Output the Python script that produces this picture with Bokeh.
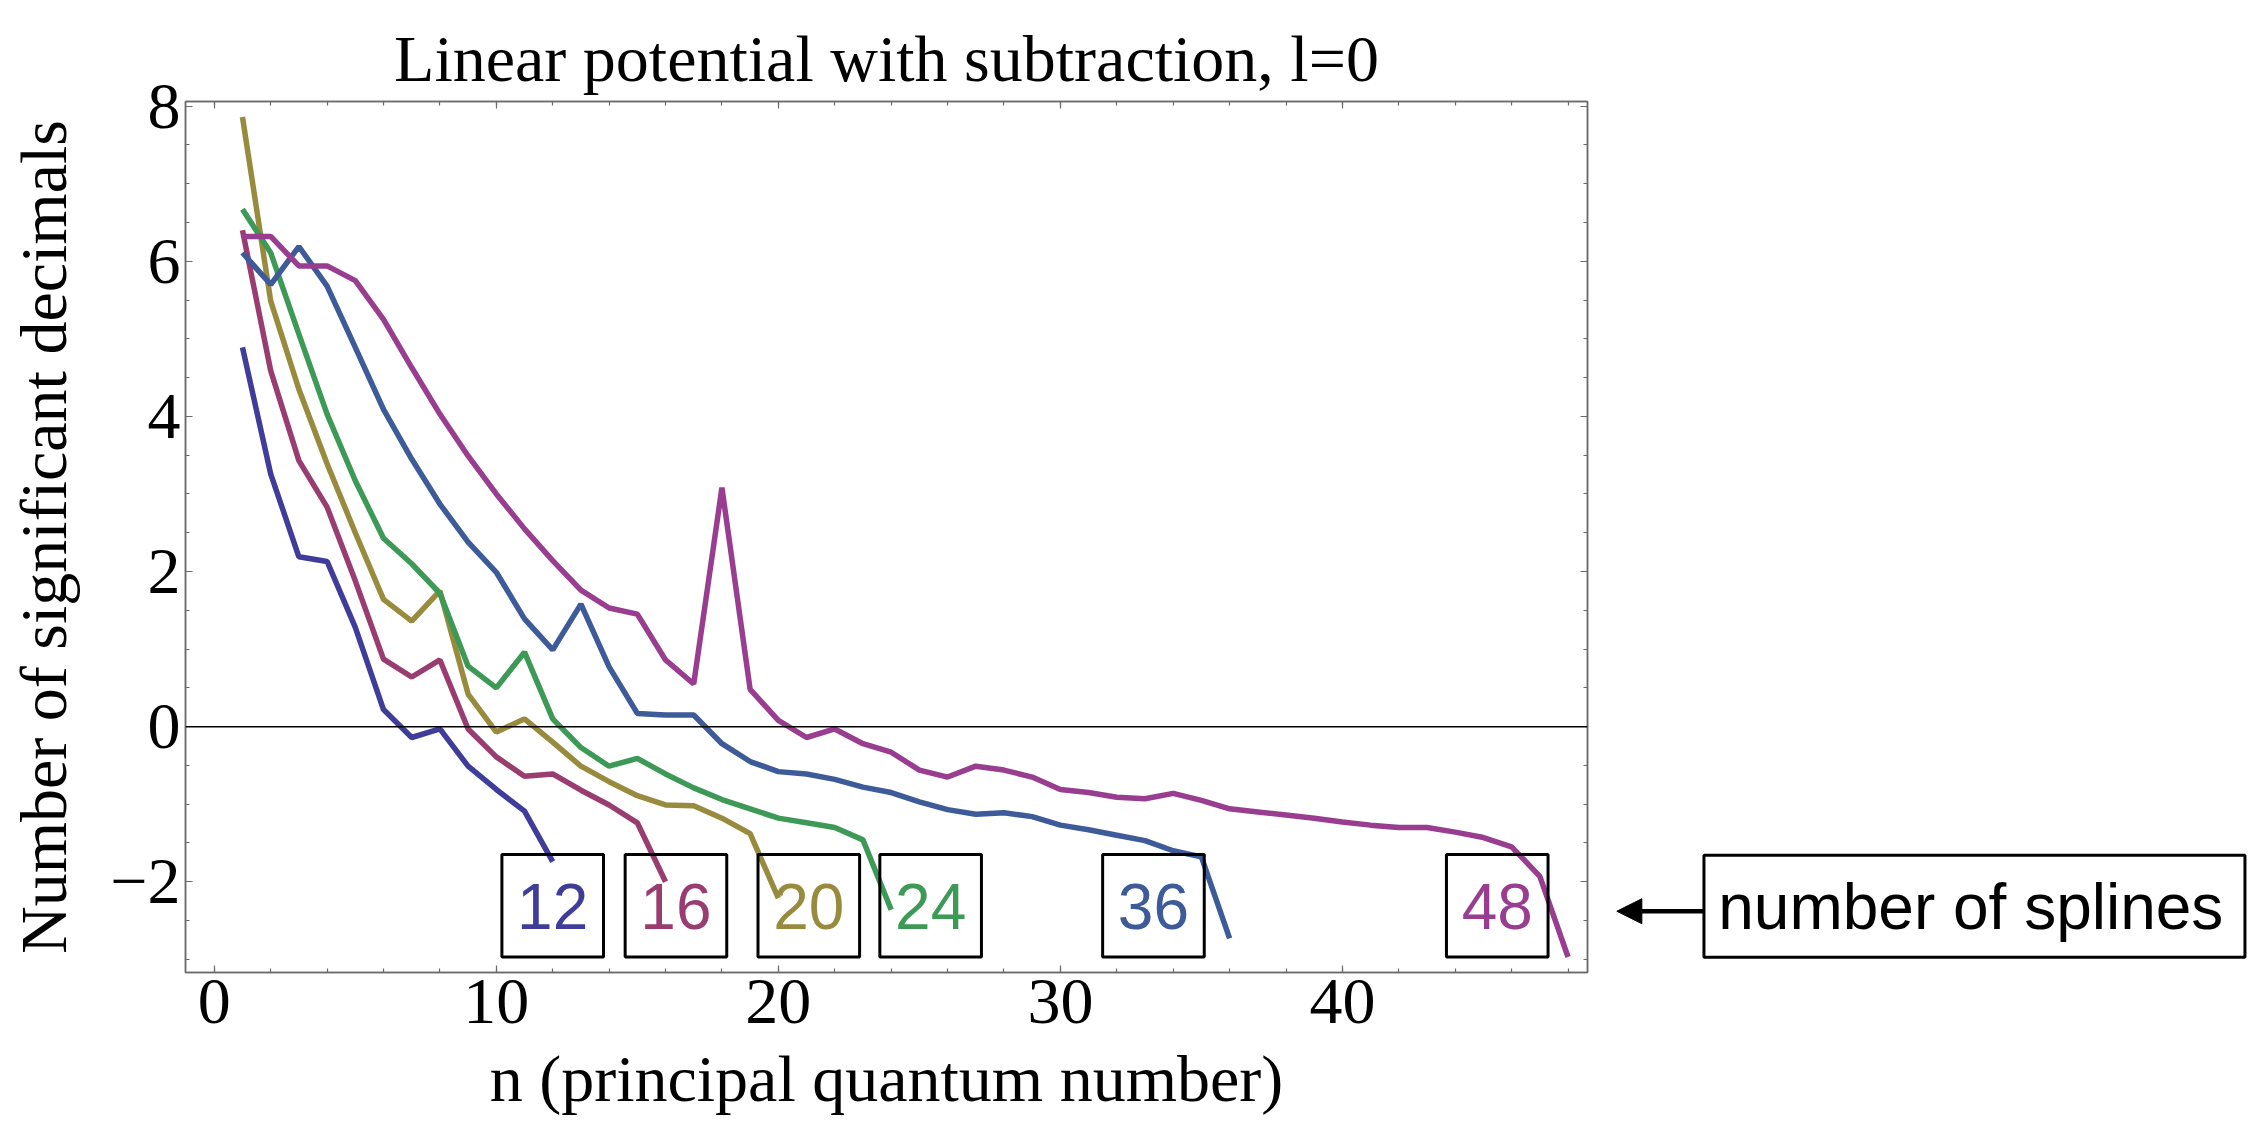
from bokeh.plotting import figure
from bokeh.layouts import row
from bokeh.models import (Range1d, LinearAxis, SingleIntervalTicker, Span,
                          Arrow, NormalHead, ColumnDataSource)
from bokeh.core.properties import value
from bokeh.embed import file_html
from bokeh.resources import INLINE

# ---------------- data ----------------
title_text = "Linear potential with subtraction, l=0"
x_label = "n (principal quantum number)"
y_label = "Number of significant decimals"
note_text = "number of splines"

splines = [12, 16, 20, 24, 36, 48]

dec_12 = [4.89, 3.26, 2.19, 2.13, 1.28, 0.22, -0.14, -0.03, -0.51, -0.81, -1.09, -1.74]
dec_16 = [6.40, 4.59, 3.43, 2.83, 1.88, 0.87, 0.64, 0.86, -0.03, -0.39, -0.64, -0.61,
          -0.82, -1.01, -1.24, -2.00]
dec_20 = [7.86, 5.49, 4.35, 3.39, 2.50, 1.64, 1.36, 1.75, 0.42, -0.07, 0.10, -0.20,
          -0.51, -0.71, -0.89, -1.01, -1.02, -1.18, -1.38, -2.21]
dec_24 = [6.67, 6.11, 5.06, 4.03, 3.17, 2.43, 2.10, 1.72, 0.78, 0.50, 0.96, 0.10,
          -0.27, -0.51, -0.41, -0.61, -0.79, -0.94, -1.06, -1.18, -1.24, -1.30, -1.46, -2.36]
dec_36 = [6.11, 5.70, 6.19, 5.68, 4.89, 4.09, 3.45, 2.87, 2.38, 1.99, 1.39, 0.99,
          1.58, 0.77, 0.17, 0.15, 0.15, -0.22, -0.45, -0.58, -0.61, -0.68, -0.78, -0.85,
          -0.97, -1.07, -1.13, -1.11, -1.16, -1.27, -1.33, -1.40, -1.47, -1.60, -1.68, -2.73]
dec_48 = [6.32, 6.32, 5.94, 5.94, 5.75, 5.25, 4.63, 4.03, 3.49, 3.00, 2.55, 2.14,
          1.76, 1.53, 1.45, 0.86, 0.55, 3.08, 0.48, 0.08, -0.14, -0.03, -0.22, -0.33,
          -0.56, -0.65, -0.51, -0.56, -0.65, -0.81, -0.85, -0.91, -0.93, -0.86, -0.95, -1.06,
          -1.10, -1.14, -1.18, -1.23, -1.27, -1.30, -1.30, -1.36, -1.43, -1.55, -1.93, -2.97]

# framed spline-count labels (data coordinates)
label_x = [12.0, 16.37, 21.08, 25.4, 33.3, 45.49]
label_y = [-2.31, -2.31, -2.31, -2.31, -2.31, -2.31]

# "number of splines" note and its arrow (data coordinates, right of the frame)
note_x = 62.41
note_y = -2.316
arrow_x = [52.82, 49.73]
arrow_y = -2.38

colors = ["#3f3d99", "#993d71", "#998b3d", "#3d9956", "#3d5a99", "#993d90"]

x_lo, x_hi = -1.02, 48.69
y_lo, y_hi = -3.17, 8.06
x_ticks_major = 10
y_ticks_major = 2

# ---------------- layout constants ----------------
SERIF = "Liberation Serif"
SANS = "Liberation Sans"
FRAME = "#6b6b6b"
TOTAL_W, H = 2266, 1123
MAIN_W = 1592
SIDE_W = TOTAL_W - MAIN_W
MB_L, MB_R, MB_T, MB_B = 185, 5, 101, 151

# ---------------- main plot ----------------
p = figure(width=MAIN_W, height=H, output_backend="svg", toolbar_location=None,
           x_range=Range1d(x_lo, x_hi), y_range=Range1d(y_lo, y_hi),
           min_border_left=MB_L, min_border_right=MB_R, min_border_top=MB_T,
           min_border_bottom=MB_B, title=title_text,
           x_axis_label=x_label, y_axis_label=y_label)
p.grid.visible = False
p.background_fill_color = "white"
p.border_fill_color = "white"
p.outline_line_color = FRAME
p.outline_line_width = 1.5

p.title.text_font = SERIF
p.title.text_font_size = "66px"
p.title.text_font_style = "normal"
p.title.text_color = "black"
p.title.align = "center"
p.title.standoff = 13


def style_axis(ax, ticker, show_labels, labels=None):
    ax.ticker = ticker
    ax.axis_line_color = FRAME
    ax.axis_line_width = 1.5
    ax.major_tick_line_color = FRAME
    ax.minor_tick_line_color = FRAME
    ax.major_tick_line_width = 1.2
    ax.minor_tick_line_width = 1.2
    ax.major_tick_in = 7
    ax.major_tick_out = 0
    ax.minor_tick_in = 4
    ax.minor_tick_out = 0
    if show_labels:
        ax.major_label_text_font = SERIF
        ax.major_label_text_font_size = "66px"
        ax.major_label_text_color = "black"
        ax.axis_label_text_font = SERIF
        ax.axis_label_text_font_size = "66px"
        ax.axis_label_text_font_style = "normal"
        ax.axis_label_text_color = "black"
    else:
        ax.major_label_overrides = {v: "" for v in labels}
        ax.major_label_standoff = 0


xt = lambda: SingleIntervalTicker(interval=x_ticks_major, num_minor_ticks=5)
yt = lambda: SingleIntervalTicker(interval=y_ticks_major, num_minor_ticks=4)

style_axis(p.xaxis[0], xt(), True)
style_axis(p.yaxis[0], yt(), True)
p.xaxis[0].major_label_standoff = 7
p.xaxis[0].axis_label_standoff = 16
p.yaxis[0].major_label_standoff = 5
p.yaxis[0].axis_label_standoff = 27
p.yaxis[0].major_label_overrides = {-2: "\u22122"}

top_axis = LinearAxis()
style_axis(top_axis, xt(), False, labels=[0, 10, 20, 30, 40])
p.add_layout(top_axis, "above")
right_axis = LinearAxis()
style_axis(right_axis, yt(), False, labels=[-2, 0, 2, 4, 6, 8])
p.add_layout(right_axis, "right")

# zero axis line
p.add_layout(Span(location=0, dimension="width", line_color="black", line_width=1.5))

# data lines
all_series = [dec_12, dec_16, dec_20, dec_24, dec_36, dec_48]
for vals, col in zip(all_series, colors):
    n = list(range(1, len(vals) + 1))
    p.line(n, vals, line_color=col, line_width=5.5)

# framed spline-count labels
src = ColumnDataSource(dict(x=label_x, y=label_y, t=[str(v) for v in splines], c=colors))
p.rect(x="x", y="y", width=101.6, height=102.4, width_units="screen", height_units="screen",
       fill_color=None, line_color="black", line_width=3, source=src)
p.text(x="x", y="y", text="t", text_color="c", text_font=value(SANS),
       text_font_size=value("64px"), text_align="center", text_baseline="middle",
       y_offset=1, source=src)

# ---------------- side panel (continues the x scale to the right) ----------------
px_per_unit = (MAIN_W - MB_L - MB_R) / (x_hi - x_lo)
side_lo = x_hi + MB_R / px_per_unit
side_hi = side_lo + SIDE_W / px_per_unit

s = figure(width=SIDE_W, height=H, output_backend="svg", toolbar_location=None,
           x_range=Range1d(side_lo, side_hi), y_range=p.y_range,
           min_border_left=0, min_border_right=0, min_border_top=MB_T,
           min_border_bottom=MB_B, x_axis_type=None, y_axis_type=None)
s.outline_line_color = None
s.background_fill_color = "white"
s.border_fill_color = "white"

s.rect(x=[note_x], y=[note_y], width=541, height=102, width_units="screen",
       height_units="screen", fill_color=None, line_color="black", line_width=3)
s.text(x=[note_x - 0.13], y=[note_y], text=[note_text], text_color="black",
       text_font=value(SANS), text_font_size=value("64px"), text_align="center",
       text_baseline="middle", y_offset=1)
s.add_layout(Arrow(end=NormalHead(size=25, fill_color="black", line_color="black", line_width=1),
                   x_start=arrow_x[0], y_start=arrow_y, x_end=arrow_x[1], y_end=arrow_y,
                   line_color="black", line_width=4.5))

layout = row(p, s)
with open("out.html", "w") as f:
    f.write(file_html(layout, INLINE))
